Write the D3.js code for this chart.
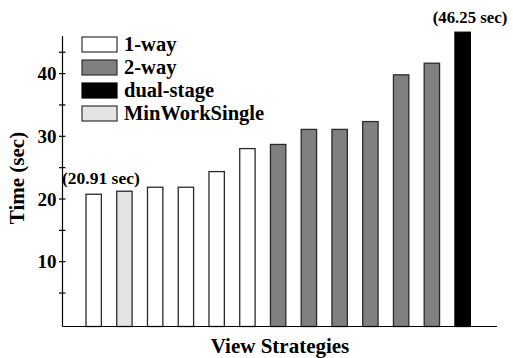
<!DOCTYPE html>
<html>
<head>
<meta charset="utf-8">
<script src="https://cdn.jsdelivr.net/npm/d3@7"></script>
<style>
  body { margin: 0; background: #fff; }
  text { font-family: "Liberation Serif", "Times New Roman", serif; font-weight: bold; fill: #000; }
</style>
</head>
<body>
<div id="chart"></div>
<script>
// data
const strategies = ["s1","s2","s3","s4","s5","s6","s7","s8","s9","s10","s11","s12","s13"];
const kinds = ["1-way","MinWorkSingle","1-way","1-way","1-way","1-way","2-way","2-way","2-way","2-way","2-way","2-way","dual-stage"];
const times = [20.76, 21.24, 21.88, 21.88, 24.37, 28.04, 28.7, 31.1, 31.1, 32.35, 39.8, 41.66, 46.6];
const legendKeys = ["1-way","2-way","dual-stage","MinWorkSingle"];
const majorTicks = [10, 20, 30, 40];
const minorTicks = [5, 15, 25, 35, 43.4];
const notes = ["(20.91 sec)", "(46.25 sec)"];

const W = 513, H = 358;
const fills = {"1-way": "#ffffff", "2-way": "#808080", "dual-stage": "#000000", "MinWorkSingle": "#e4e4e4"};

const svg = d3.select("#chart").append("svg")
    .attr("width", W).attr("height", H);

// scales
let x = d3.scaleBand()
    .domain(strategies)
    .range([78.3, 478])
    .paddingInner(0.5)
    .paddingOuter(0.25);

let y = d3.scaleLinear()
    .domain([0, 10])
    .range([324.4, 261.7]);

const axisX = 62.5, baseY = 326.5, topY = 36;

// bars
svg.append("g").selectAll("rect")
    .data(strategies)
    .enter().append("rect")
    .attr("x", d => x(d))
    .attr("y", (d, i) => y(times[i]))
    .attr("width", x.bandwidth())
    .attr("height", (d, i) => baseY - y(times[i]))
    .style("fill", (d, i) => fills[kinds[i]])
    .style("stroke", (d, i) => kinds[i] == "dual-stage" ? "#000" : "#2a2a2a")
    .style("stroke-width", 1.3);

// axes lines
svg.append("line")
    .attr("x1", axisX).attr("x2", axisX)
    .attr("y1", topY).attr("y2", baseY)
    .style("stroke", "#000").style("stroke-width", 1.2);
svg.append("line")
    .attr("x1", axisX).attr("x2", 497)
    .attr("y1", baseY).attr("y2", baseY)
    .style("stroke", "#000").style("stroke-width", 1.2);

// ticks cross the axis
svg.append("g").selectAll("line")
    .data(majorTicks.concat(minorTicks))
    .enter().append("line")
    .attr("x1", axisX - 3.5).attr("x2", axisX + 3)
    .attr("y1", d => y(d)).attr("y2", d => y(d))
    .style("stroke", "#000").style("stroke-width", 1.2);

svg.append("g").selectAll("text")
    .data(majorTicks)
    .enter().append("text")
    .attr("x", axisX - 6)
    .attr("y", d => y(d))
    .attr("dy", "0.35em")
    .attr("text-anchor", "end")
    .style("font-size", "19px")
    .text(d => d);

// axis titles
svg.append("text")
    .attr("transform", "translate(24,178) rotate(-90)")
    .attr("text-anchor", "middle")
    .style("font-size", "21px")
    .text("Time (sec)");

svg.append("text")
    .attr("x", 280).attr("y", 353)
    .attr("text-anchor", "middle")
    .style("font-size", "21px")
    .text("View Strategies");

// annotations
svg.append("text")
    .attr("x", 62).attr("y", 184)
    .style("font-size", "17.5px")
    .text(notes[0]);
svg.append("text")
    .attr("x", 470)
    .attr("y", 23)
    .attr("text-anchor", "middle")
    .style("font-size", "16.8px")
    .text(notes[1]);

// legend
let leg = svg.append("g").selectAll("g")
    .data(legendKeys)
    .enter().append("g")
    .attr("transform", (d, i) => "translate(82," + (37 + i * 23) + ")");

leg.append("rect")
    .attr("width", 35).attr("height", 15)
    .style("fill", d => fills[d])
    .style("stroke", d => d == "dual-stage" ? "#000" : "#333")
    .style("stroke-width", 1.2);

leg.append("text")
    .attr("x", 42).attr("y", 13.5)
    .style("font-size", "20.5px")
    .text(d => d);
</script>
</body>
</html>
